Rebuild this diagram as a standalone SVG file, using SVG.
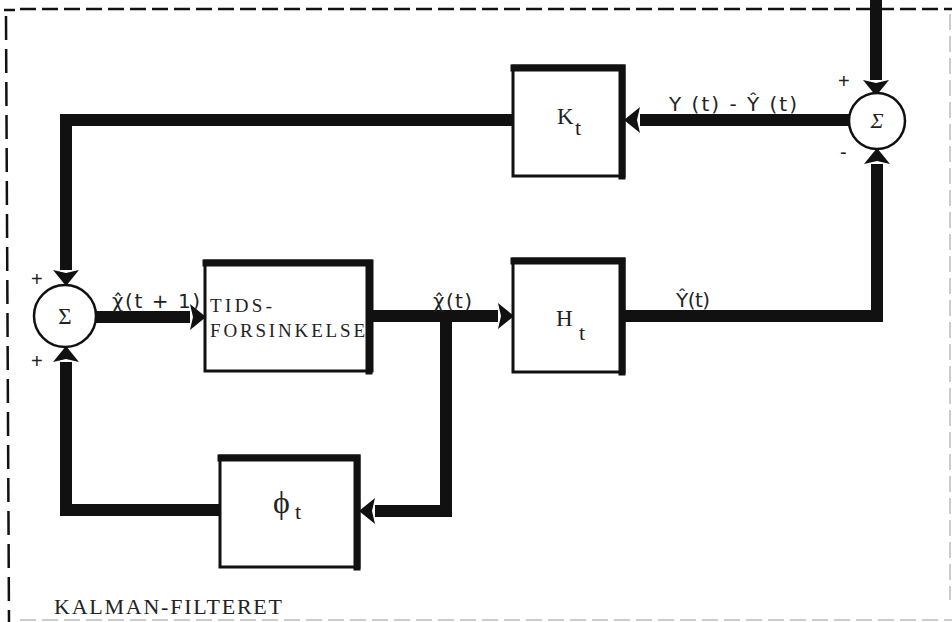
<svg xmlns="http://www.w3.org/2000/svg" width="952" height="622" viewBox="0 0 952 622">
<style>
.bg{fill:#fff}
.frame{fill:none;stroke:#111;stroke-width:2.5;stroke-dasharray:16 6}
.framev{fill:none;stroke:#111;stroke-width:2.5;stroke-dasharray:24 9}
.faint{fill:none;stroke:#ccc;stroke-width:2;stroke-dasharray:16 6}
.box{fill:#fff;stroke:#111;stroke-width:3}
.boxedge{fill:none;stroke:#111;stroke-width:7;stroke-linecap:square}
.sum{fill:#fff;stroke:#111;stroke-width:2.5}
.wire{fill:none;stroke:#111;stroke-width:12;stroke-linejoin:miter}
.lbl{font-family:"DejaVu Sans","Liberation Sans",sans-serif;font-size:20px;fill:#222}
.serif{font-family:"Liberation Serif","DejaVu Serif",serif;fill:#222}
.sign{font-family:"Liberation Sans",sans-serif;font-size:20px;fill:#222}
</style>
<defs>
<marker id="ah" markerUnits="userSpaceOnUse" markerWidth="16" markerHeight="26" viewBox="0 0 16 26" refX="0" refY="13" orient="auto" overflow="visible">
<path d="M0,0 L16,13 L0,26 L3,13 z" fill="#111"/>
</marker>
</defs>
<rect class="bg" x="0" y="0" width="952" height="622"/>
<g id="frame">
<line class="frame" x1="4" y1="10" x2="15" y2="10"/>
<line class="frame" x1="20" y1="9" x2="952" y2="9"/>
<line class="framev" x1="6" y1="16" x2="9" y2="622"/>
<line class="faint" x1="20" y1="620" x2="952" y2="620"/>
<line class="faint" x1="950" y1="14" x2="950" y2="600"/>
</g>
<g id="connectors">
<path class="wire" d="M876,0 V80" marker-end="url(#ah)"/>
<path class="wire" d="M849,120 H640" marker-end="url(#ah)"/>
<path class="wire" d="M513,120 H66 V270" marker-end="url(#ah)"/>
<path class="wire" d="M96,317 H190" marker-end="url(#ah)"/>
<path class="wire" d="M373,316 H498" marker-end="url(#ah)"/>
<path class="wire" d="M625,316 H877 V164" marker-end="url(#ah)"/>
<path class="wire" d="M446,316 V511 H375" marker-end="url(#ah)"/>
<path class="wire" d="M220,510 H66 V362" marker-end="url(#ah)"/>
</g>
<g id="sum-right">
<circle class="sum" cx="877" cy="121" r="28"/>
<text class="serif" x="877" y="128" font-size="22" font-style="italic" text-anchor="middle">Σ</text>
<text class="sign" x="838" y="88">+</text>
<text class="sign" x="840" y="159">-</text>
</g>
<g id="sum-left">
<circle class="sum" cx="65" cy="316" r="31"/>
<text class="serif" x="65" y="324" font-size="23" text-anchor="middle">Σ</text>
<text class="sign" x="31" y="286">+</text>
<text class="sign" x="31" y="368">+</text>
</g>
<g id="box-K">
<rect class="box" x="513" y="66" width="111" height="110"/>
<path class="boxedge" d="M514,68 H622 V176"/>
<text class="serif" x="557" y="124" font-size="23">K</text>
<text class="serif" x="575" y="135" font-size="22">t</text>
</g>
<g id="box-tids">
<rect class="box" x="205" y="261" width="167" height="110"/>
<path class="boxedge" d="M206,263 H369 V371"/>
<text class="serif" x="210" y="312" font-size="19" textLength="62" lengthAdjust="spacing">TIDS-</text>
<text class="serif" x="210" y="337" font-size="19" textLength="155" lengthAdjust="spacing">FORSINKELSE</text>
</g>
<g id="box-H">
<rect class="box" x="513" y="259" width="111" height="113"/>
<path class="boxedge" d="M514,261 H622 V372"/>
<text class="serif" x="556" y="326" font-size="23">H</text>
<text class="serif" x="579" y="340" font-size="22">t</text>
</g>
<g id="box-phi">
<rect class="box" x="220" y="456" width="139" height="111"/>
<path class="boxedge" d="M221,458 H357 V567"/>
<text class="serif" x="273" y="513" font-size="32">ϕ</text>
<text class="serif" x="295" y="519" font-size="22">t</text>
</g>
<g id="labels">
<text class="lbl" x="112" y="308" textLength="88" lengthAdjust="spacing">χ̂(t + 1)</text>
<text class="lbl" x="433" y="308" textLength="39" lengthAdjust="spacing">χ̂(t)</text>
<text class="lbl" x="676" y="307" textLength="34" lengthAdjust="spacing">Ŷ(t)</text>
<text class="lbl" x="669" y="111" textLength="128" lengthAdjust="spacing">Y (t)  -  Ŷ (t)</text>
<text class="serif" x="54" y="614" font-size="22" textLength="228" lengthAdjust="spacing">KALMAN-FILTERET</text>
</g>
</svg>
